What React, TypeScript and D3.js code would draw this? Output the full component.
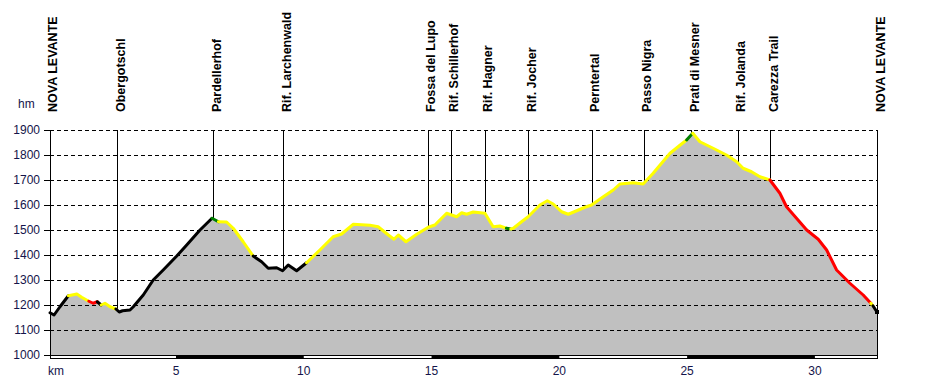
import React from "react";
import * as d3 from "d3";

const kmVals = [0.07,0.23,0.46,0.79,1.12,1.31,1.59,1.76,1.92,2.07,2.22,2.42,2.65,2.78,2.91,3.2,3.33,3.72,4.11,4.5,5.03,5.42,5.94,6.41,6.66,6.98,7.24,7.63,8.02,8.35,8.61,8.94,9.17,9.39,9.72,10.11,10.63,11.15,11.48,11.94,12.59,12.91,13.31,13.53,13.7,14.0,14.42,14.87,15.13,15.59,15.98,16.18,16.37,16.63,17.09,17.41,17.67,17.93,18.1,18.2,18.52,18.78,19.24,19.53,19.76,20.09,20.35,20.68,21.0,21.26,21.72,22.11,22.37,22.89,23.28,23.67,24.33,24.78,24.98,25.22,25.5,26.02,26.54,26.94,27.19,27.52,27.85,28.24,28.63,28.89,29.28,29.68,30.13,30.46,30.85,31.37,31.89,32.19,32.27,32.43];
const elevVals = [1169,1160,1193,1237,1244,1231,1215,1207,1213,1200,1207,1193,1184,1172,1177,1180,1193,1240,1300,1340,1396,1440,1500,1547,1533,1532,1507,1453,1396,1373,1347,1349,1337,1360,1337,1369,1420,1473,1484,1523,1519,1513,1480,1463,1480,1453,1483,1511,1520,1567,1553,1569,1563,1572,1567,1513,1516,1507,1504,1507,1533,1553,1600,1617,1604,1573,1563,1577,1591,1600,1633,1660,1684,1689,1684,1727,1807,1844,1860,1887,1853,1827,1800,1773,1747,1733,1713,1700,1647,1593,1547,1500,1463,1420,1340,1287,1240,1207,1197,1172];
// colour of the line from each start km onwards
const colorRunCodes = ["k","y","r","k","y","k","g","y","k","y","g","y","g","y","r","y","k"];
const colorRunStartKm = [0.07,0.79,1.59,1.92,2.07,2.65,6.41,6.66,8.02,10.11,17.93,18.1,24.98,25.22,28.24,32.19,32.27];

const waypointNames = ["NOVA LEVANTE","Obergotschl","Pardellerhof","Rif. Larchenwald","Fossa del Lupo","Rif. Schillerhof","Rif. Hagner","Rif. Jocher","Perntertal","Passo Nigra","Prati di Mesner","Rif. Jolanda","Carezza Trail","NOVA LEVANTE"];
const waypointKm = [0.07,2.7,6.46,9.2,14.85,15.75,17.09,18.78,21.26,23.31,25.17,26.98,28.26,32.43];

const yTicks = [1000,1100,1200,1300,1400,1500,1600,1700,1800,1900];
const xTicks = [5,10,15,20,25,30];
const barSegments = [[5,10],[15,20],[25,30]];

const colorMap: Record<string,string> = { k: "#000000", y: "#ffff00", r: "#ff0000", g: "#008000" };
const FONT = "'Liberation Sans', Arial, sans-serif";
const TICK_COLOR = "#14144a";

export default function App() {
  const x = d3.scaleLinear().domain([0, 32.43]).range([48.2, 877]);
  const y = d3.scaleLinear().domain([1000, 1900]).range([355, 130]);
  const pts = kmVals.map((k, i) => ({ k, e: elevVals[i] }));

  const area = d3.area<{k:number;e:number}>().x(d => x(d.k)).y0(y(1000)).y1(d => y(d.e));
  const line = d3.line<{k:number;e:number}>().x(d => x(d.k)).y(d => y(d.e));

  const codeAt = (k: number) => {
    let c = colorRunCodes[0];
    for (let j = 0; j < colorRunStartKm.length; j++) if (k >= colorRunStartKm[j] - 1e-6) c = colorRunCodes[j];
    return c;
  };

  const runs: { c: string; p: {k:number;e:number}[] }[] = [];
  for (let i = 0; i < pts.length - 1; i++) {
    const c = codeAt(pts[i].k);
    const last = runs[runs.length - 1];
    if (last && last.c === c) last.p.push(pts[i + 1]);
    else runs.push({ c, p: [pts[i], pts[i + 1]] });
  }

  const interp = d3.scaleLinear().domain(kmVals).range(elevVals).clamp(true);
  const left = 50, right = 877;
  const lastPt = pts[pts.length - 1];

  return (
    <svg width={927} height={380} style={{ position: "absolute", left: 0, top: 0, background: "#fff" }} fontFamily={FONT}>
      <rect x={0} y={0} width={927} height={380} fill="#fff" />
      <path d={area(pts) || ""} fill="#c0c0c0" />
      {yTicks.filter(t => t > 1000).map(t => (
        <line key={"g"+t} x1={left} x2={right} y1={y(t)} y2={y(t)} stroke="#000" strokeWidth={1} strokeDasharray="4 3" shapeRendering="crispEdges" />
      ))}
      {yTicks.map(t => (
        <g key={"yt"+t}>
          <line x1={44} x2={left} y1={y(t)} y2={y(t)} stroke="#000" shapeRendering="crispEdges" />
          <text x={40} y={y(t)} dy="0.35em" textAnchor="end" fontSize={12} fill={TICK_COLOR}>{t}</text>
        </g>
      ))}
      <text x={18} y={108} fontSize={12} fill={TICK_COLOR}>hm</text>
      {waypointKm.map((k, i) => {
        const xp = Math.round(x(k)) + 0.5;
        return (
          <g key={"w"+i}>
            <line x1={xp} x2={xp} y1={130} y2={y(interp(k))} stroke="#000" strokeWidth={1} />
            <text transform={`translate(${x(k) + 7.5},112) rotate(-90)`} fontSize={12.5} fontWeight="bold" fill="#000">{waypointNames[i]}</text>
          </g>
        );
      })}
      {runs.map((r, i) => (
        <path key={"r"+i} d={line(r.p) || ""} fill="none" stroke={colorMap[r.c]} strokeWidth={3} strokeLinejoin="round" strokeLinecap="round" />
      ))}
      <rect x={x(lastPt.k) - 2} y={y(lastPt.e) - 2} width={4} height={4} fill="#000" />
      <line x1={left + 0.5} x2={left + 0.5} y1={130} y2={359} stroke="#000" />
      <line x1={right + 0.5} x2={right + 0.5} y1={130} y2={359} stroke="#000" />
      <rect x={left + 0.5} y={355.5} width={right - left} height={3} fill="#fff" stroke="#000" />
      {barSegments.map((s, i) => (
        <rect key={"b"+i} x={x(s[0])} y={355} width={x(s[1]) - x(s[0])} height={4} fill="#000" />
      ))}
      <text x={48} y={375} fontSize={12} fill={TICK_COLOR}>km</text>
      {xTicks.map(t => (
        <text key={"xt"+t} x={x(t)} y={375} textAnchor="middle" fontSize={12} fill={TICK_COLOR}>{t}</text>
      ))}
    </svg>
  );
}
